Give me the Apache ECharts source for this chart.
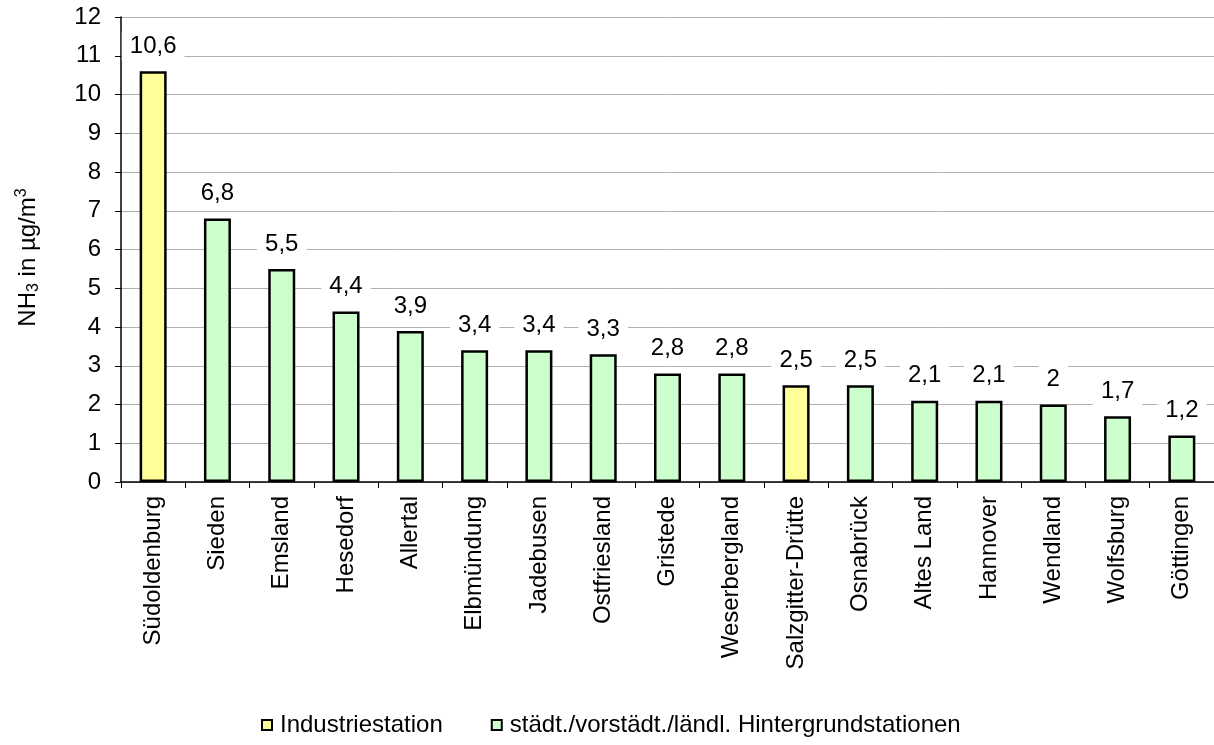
<!DOCTYPE html>
<html>
<head>
<meta charset="utf-8">
<script src="https://cdn.jsdelivr.net/npm/echarts@6/dist/echarts.min.js"></script>
<style>
	html, body { margin: 0; padding: 0; background: #fff; }
	#chart { width: 1214px; height: 745px; }
</style>
</head>
<body>
<div id="chart"></div>
<script>
var stations = ["Südoldenburg", "Sieden", "Emsland", "Hesedorf", "Allertal", "Elbmündung", "Jadebusen", "Ostfriesland",
	"Gristede", "Weserbergland", "Salzgitter-Drütte", "Osnabrück", "Altes Land", "Hannover", "Wendland", "Wolfsburg", "Göttingen"];
var nh3Values = [10.6, 6.8, 5.5, 4.4, 3.9, 3.4, 3.4, 3.3, 2.8, 2.8, 2.5, 2.5, 2.1, 2.1, 2, 1.7, 1.2];
// 1 = Industriestation, 0 = Hintergrundstation
var isIndustry = [1, 0, 0, 0, 0, 0, 0, 0, 0, 0, 1, 0, 0, 0, 0, 0, 0];
var seriesNames = ["Industriestation", "städt./vorstädt./ländl. Hintergrundstationen"];
var yTicks = [0, 12, 1];

var industryData = [], backgroundData = [];
for (var i = 0; i < nh3Values.length; i++) {
	industryData.push(isIndustry[i] ? nh3Values[i] : null);
	backgroundData.push(isIndustry[i] ? null : nh3Values[i]);
}

var myChart = echarts.init(document.getElementById('chart'));
var fontFamily = '"Liberation Sans", Arial, sans-serif';
var fs = 24;

function barSeries(name, color, data) {
	return {
		name: name,
		type: 'bar',
		barWidth: 27,
		barGap: '-100%',
		itemStyle: {
			color: color,
			borderColor: '#000',
			borderWidth: 2.5
		},
		label: {
			show: true,
			position: 'top',
			distance: 11,
			color: '#000',
			fontSize: fs,
			fontFamily: fontFamily,
			backgroundColor: '#fff',
			padding: [2, 8],
			formatter: function (p) {
				return String(p.value).replace('.', ',');
			}
		},
		data: data
	};
}

var option = {
	animation: false,
	textStyle: { fontFamily: fontFamily },
	legend: {
		bottom: 3,
		left: 256,
		itemGap: 48,
		itemWidth: 10,
		itemHeight: 10,
		icon: 'rect',
		itemStyle: { borderColor: '#000', borderWidth: 2 },
		textStyle: { color: '#000', fontSize: 24, fontFamily: fontFamily, padding: [0, 0, 0, 3] },
		data: seriesNames
	},
	grid: {
		left: 121,
		right: -2,
		top: 17,
		bottom: 263
	},
	xAxis: {
		type: 'category',
		data: stations,
		axisLine: { lineStyle: { color: '#000', width: 1.5 } },
		axisTick: { show: true, length: 6, lineStyle: { color: '#000' } },
		axisLabel: {
			rotate: 90,
			interval: 0,
			margin: 14,
			color: '#000',
			fontSize: fs,
			fontFamily: fontFamily
		}
	},
	yAxis: {
		type: 'value',
		min: yTicks[0],
		max: yTicks[1],
		interval: yTicks[2],
		name: '{n|NH}{s|3}{n| in µg/m}{p|3}',
		nameLocation: 'middle',
		nameGap: 79,
		nameRotate: 90,
		nameTextStyle: {
			padding: [0, 16, 0, 0],
			rich: {
				n: { fontSize: fs, color: '#000', fontFamily: fontFamily },
				s: { fontSize: 16, color: '#000', fontFamily: fontFamily, verticalAlign: 'bottom', padding: [12, 0, 0, 0] },
				p: { fontSize: 16, color: '#000', fontFamily: fontFamily, verticalAlign: 'top', padding: [0, 0, 10, 0] }
			}
		},
		axisLine: { show: true, lineStyle: { color: '#000', width: 1.5 } },
		axisTick: { show: true, length: 6, lineStyle: { color: '#000' } },
		axisLabel: {
			margin: 20,
			color: '#000',
			fontSize: fs,
			fontFamily: fontFamily
		},
		splitLine: { lineStyle: { color: '#b0b0b0', width: 1 } }
	},
	series: [
		barSeries(seriesNames[0], '#ffff99', industryData),
		barSeries(seriesNames[1], '#ccffcc', backgroundData)
	]
};

myChart.setOption(option);
</script>
</body>
</html>
